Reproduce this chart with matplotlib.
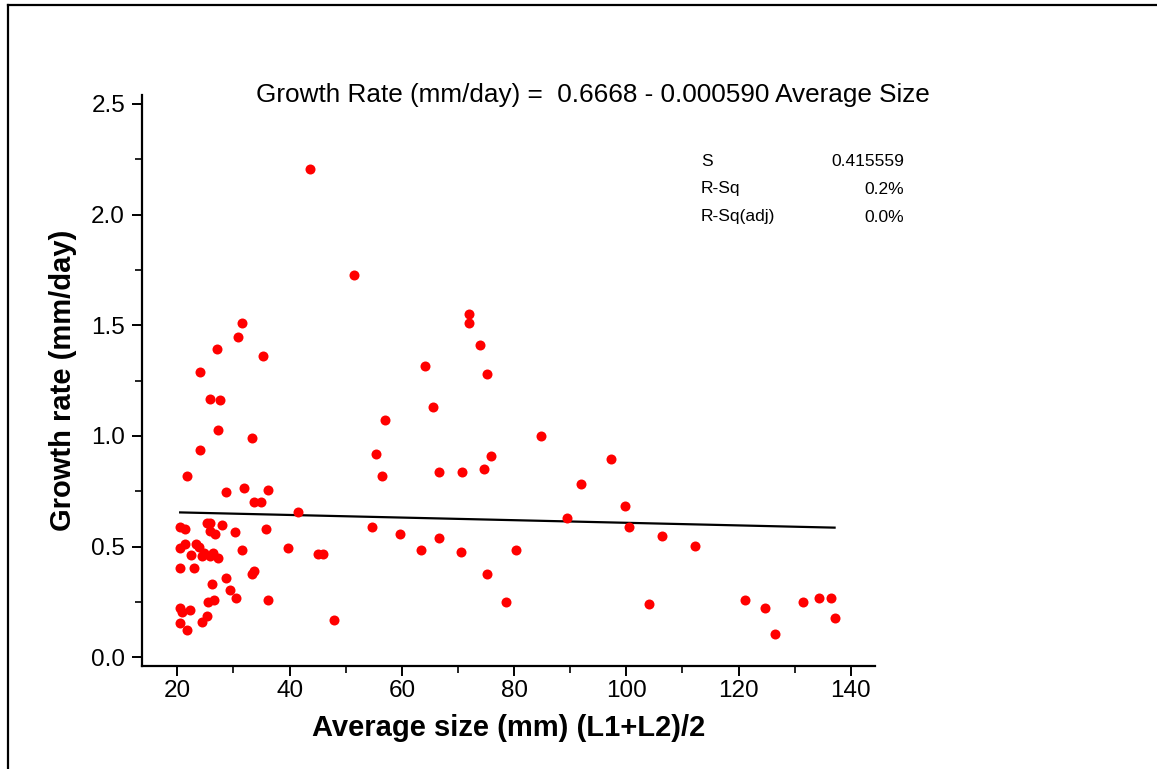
import numpy as np
import matplotlib
matplotlib.use('Agg')
import matplotlib.pyplot as plt
from matplotlib.lines import Line2D

# data: average size (mm) and growth rate (mm/day)
avg_size = [31.6, 30.8, 27.0, 35.2, 24.1, 25.9, 27.6, 27.3, 33.3, 24.1,
            21.7, 28.7, 31.9, 36.2, 33.7, 34.9, 41.5, 20.5, 21.3, 25.2,
            25.9, 28.0, 25.9, 26.7, 30.2, 35.8, 20.5, 21.3, 23.4, 23.9,
            22.4, 24.4, 24.8, 25.9, 26.3, 27.3, 31.6, 39.7, 20.5, 23.0,
            28.7, 33.3, 33.7, 26.2, 29.4, 30.5, 25.5, 26.6, 36.2, 20.5,
            22.3, 20.9, 25.2, 24.4, 20.5, 21.7,
            43.7, 51.5, 71.9, 71.9, 74.0, 64.1, 75.1, 65.5, 57.0, 55.4,
            75.8, 56.5, 66.6, 70.8, 74.7, 45.1, 46.0, 48.0, 54.7, 59.7,
            63.4, 66.6, 70.5, 75.1, 78.6, 80.4,
            84.8, 97.2, 91.9, 99.7, 89.4, 100.4, 106.4, 112.2, 104.0, 121.1,
            124.7, 126.4, 131.4, 134.3, 136.4, 137.1]
growth_rate = [1.512, 1.449, 1.395, 1.359, 1.287, 1.169, 1.162, 1.025, 0.989, 0.935,
               0.817, 0.745, 0.763, 0.754, 0.700, 0.700, 0.656, 0.591, 0.581, 0.609,
               0.608, 0.600, 0.572, 0.557, 0.566, 0.582, 0.492, 0.512, 0.512, 0.497,
               0.464, 0.456, 0.471, 0.458, 0.471, 0.447, 0.483, 0.492, 0.404, 0.404,
               0.358, 0.377, 0.392, 0.330, 0.304, 0.266, 0.248, 0.257, 0.257, 0.224,
               0.212, 0.206, 0.185, 0.158, 0.155, 0.122,
               2.208, 1.728, 1.549, 1.511, 1.413, 1.314, 1.278, 1.133, 1.070, 0.918,
               0.909, 0.817, 0.835, 0.835, 0.853, 0.467, 0.467, 0.169, 0.591, 0.555,
               0.485, 0.537, 0.476, 0.377, 0.250, 0.485,
               0.998, 0.898, 0.781, 0.682, 0.628, 0.591, 0.546, 0.501, 0.241, 0.259,
               0.223, 0.106, 0.250, 0.268, 0.268, 0.178]

# fitted regression (from the chart title)
intercept = 0.6668
slope = -0.000590
stat_names = ['S', 'R-Sq', 'R-Sq(adj)']
stat_values = ['0.415559', '0.2%', '0.0%']

x_ticks = [20, 40, 60, 80, 100, 120, 140]
y_ticks = [0.0, 0.5, 1.0, 1.5, 2.0, 2.5]

plt.rcParams['font.family'] = ['Liberation Sans', 'DejaVu Sans']

W, H = 1157, 769
fig = plt.figure(figsize=(W / 100, H / 100), dpi=100)
ax = fig.add_axes([141.7 / W, 1 - 666 / H, (875 - 141.7) / W, (666 - 95) / H])

ax.scatter(avg_size, growth_rate, s=52, color='#ff0000', zorder=3, linewidths=0)

xs = np.array([min(avg_size), max(avg_size)])
ax.plot(xs, intercept + slope * xs, color='black', lw=1.6, zorder=2)

ax.set_xlim(13.65, 144.3)
ax.set_ylim(-0.039, 2.54)
ax.set_xticks(x_ticks)
ax.set_yticks(y_ticks)
ax.set_yticklabels(['%.1f' % v for v in y_ticks])
ax.set_xticks([30, 50, 70, 90, 110, 130], minor=True)
ax.set_yticks([0.25, 0.75, 1.25, 1.75, 2.25], minor=True)
ax.tick_params(which='major', length=7, width=1.4, labelsize=17.5)
ax.tick_params(axis='x', which='major', pad=3)
ax.tick_params(axis='y', which='major', pad=5)
ax.tick_params(which='minor', length=5, width=1.2)

for side in ['top', 'right']:
    ax.spines[side].set_visible(False)
for side in ['left', 'bottom']:
    ax.spines[side].set_linewidth(1.6)

ax.set_xlabel('Average size (mm) (L1+L2)/2', fontsize=21, fontweight='bold')
ax.set_ylabel('Growth rate (mm/day)', fontsize=21, fontweight='bold')
ax.xaxis.set_label_coords(0.5, -0.084)
ax.yaxis.set_label_coords(-0.088, 0.5)

fig.text(593 / W, 1 - 95 / H, 'Growth Rate (mm/day) =  %.4f - %.6f Average Size' % (intercept, -slope),
         ha='center', va='center', fontsize=18.8)

for i, (name, val) in enumerate(zip(stat_names, stat_values)):
    yy = 1 - (161 + 28 * i) / H
    fig.text(701 / W, yy, name, ha='left', va='center', fontsize=12.5)
    fig.text(904 / W, yy, val, ha='right', va='center', fontsize=12.5)

# frame of the original picture (only top and left edges are visible)
fig.add_artist(Line2D([7.5 / W, 7.5 / W], [0, 1 - 5 / H], color='black', lw=1.6))
fig.add_artist(Line2D([7.5 / W, 1], [1 - 5 / H, 1 - 5 / H], color='black', lw=1.6))

fig.savefig('out.png', dpi=100)
